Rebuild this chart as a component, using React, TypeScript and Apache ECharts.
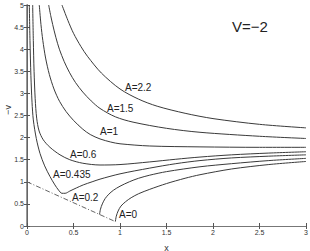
import React, { useEffect, useRef } from "react";
import * as echarts from "echarts";

const xTicks = [0, 0.5, 1, 1.5, 2, 2.5, 3];
const yTicks = [0, 0.5, 1, 1.5, 2, 2.5, 3, 3.5, 4, 4.5, 5];

const curveA22 = [[0.376,5],[0.44,4.65],[0.5,4.36],[0.58,4.06],[0.65,3.84],[0.8,3.46],[1.0,3.1],[1.2,2.87],[1.4,2.71],[1.7,2.55],[2.0,2.43],[2.5,2.3],[3,2.22]];
const curveA15 = [[0.233,5],[0.255,4.76],[0.276,4.56],[0.31,4.27],[0.348,4.0],[0.4,3.72],[0.455,3.48],[0.52,3.25],[0.6,3.03],[0.69,2.83],[0.785,2.66],[0.95,2.47],[1.14,2.35],[1.5,2.21],[1.86,2.12],[2.5,2.03],[3,1.98]];
const curveA1 = [[0.132,5],[0.15,4.56],[0.17,4.2],[0.2,3.8],[0.24,3.43],[0.29,3.1],[0.35,2.82],[0.42,2.59],[0.5,2.39],[0.6,2.19],[0.68,2.07],[0.785,1.97],[0.9,1.9],[1.0,1.86],[1.32,1.81],[1.86,1.79],[2.5,1.78],[3,1.78]];
const curveA06 = [[0.061,5],[0.068,4.2],[0.076,3.5],[0.088,2.88],[0.104,2.44],[0.13,2.15],[0.175,1.95],[0.247,1.78],[0.355,1.61],[0.46,1.5],[0.6,1.42],[0.785,1.38],[1.0,1.39],[1.32,1.45],[1.6,1.51],[1.86,1.56],[2.2,1.61],[2.6,1.65],[3,1.68]];
const curveA0435 = [[0.025,5],[0.032,4.2],[0.042,3.4],[0.054,2.8],[0.068,2.4],[0.1,1.98],[0.14,1.64],[0.19,1.36],[0.247,1.12],[0.3,0.93],[0.34,0.81],[0.375,0.74],[0.41,0.74],[0.46,0.79],[0.53,0.86],[0.605,0.93],[0.7,1.0],[0.785,1.06],[1.0,1.18],[1.32,1.31],[1.6,1.41],[1.86,1.48],[2.2,1.54],[2.6,1.58],[3,1.61]];
const curveA02 = [[0.78,0.26],[0.79,0.38],[0.81,0.5],[0.84,0.62],[0.88,0.72],[0.93,0.81],[1.0,0.9],[1.1,1.0],[1.2,1.08],[1.32,1.15],[1.5,1.23],[1.86,1.34],[2.2,1.41],[2.6,1.48],[3,1.53]];
const curveA0 = [[0.95,0.1],[0.96,0.22],[0.98,0.34],[1.01,0.45],[1.06,0.55],[1.12,0.64],[1.2,0.73],[1.32,0.83],[1.5,0.96],[1.7,1.08],[1.86,1.16],[2.2,1.29],[2.6,1.39],[3,1.46]];
const boundary = [[0,1],[0.95,0.1]];

const curveLabels = ["A=2.2", "A=1.5", "A=1", "A=0.6", "A=0.435", "A=0.2", "A=0"];
const labelPos = [[125,87.5],[107,108],[100,131.5],[70,154],[53,174],[72,197],[119,214]];
const title = "V=\u22122";
const yName = "\u2212v";

const FONT = "'Liberation Sans', Arial, sans-serif";

export default function App() {
  const ref = useRef<HTMLDivElement>(null);
  useEffect(() => {
    const chart = echarts.init(ref.current!, undefined, { renderer: "svg" });
    const curves = [curveA22, curveA15, curveA1, curveA06, curveA0435, curveA02, curveA0];
    const lineSeries: any[] = curves.map((d) => ({
      type: "line",
      data: d,
      showSymbol: false,
      smooth: 0.3,
      lineStyle: { color: "#3a3a3a", width: 1 },
      xAxisIndex: 0,
      yAxisIndex: 0,
    }));
    lineSeries.push({
      type: "line",
      data: boundary,
      showSymbol: false,
      lineStyle: { color: "#666", width: 1, type: [5, 2, 1, 2] },
    });
    const axisCommon = {
      type: "value" as const,
      splitLine: { show: false },
      axisTick: { inside: true, length: 3, lineStyle: { color: "#555" } },
    };
    chart.setOption({
      animation: false,
      backgroundColor: "#fff",
      grid: { left: 27, right: 4, top: 5, bottom: 25, containLabel: false, outerBoundsMode: "none" },
      xAxis: [
        {
          ...axisCommon,
          min: 0, max: 3, interval: 0.5,
          position: "bottom",
          axisLine: { show: true, lineStyle: { color: "#333", width: 1 } },
          axisLabel: { fontSize: 7, color: "#333", margin: 3, fontFamily: FONT, formatter: (v: number) => String(v) },
          name: "x", nameLocation: "middle", nameGap: 17,
          nameTextStyle: { fontSize: 9, color: "#333", fontFamily: FONT },
        },
        {
          ...axisCommon,
          min: 0, max: 3, interval: 0.5,
          position: "top",
          axisLine: { show: true, lineStyle: { color: "#777", width: 1 } },
          axisLabel: { show: false },
        },
      ],
      yAxis: [
        {
          ...axisCommon,
          min: 0, max: 5, interval: 0.5,
          position: "left",
          axisLine: { show: true, lineStyle: { color: "#333", width: 1 } },
          axisLabel: { fontSize: 7, color: "#333", margin: 3, fontFamily: FONT, formatter: (v: number) => String(v) },
        },
        {
          ...axisCommon,
          min: 0, max: 5, interval: 0.5,
          position: "right",
          axisLine: { show: true, lineStyle: { color: "#777", width: 1.5 } },
          axisLabel: { show: false },
        },
      ],
      graphic: [
        ...curveLabels.map((t, i) => ({
          type: "text",
          x: labelPos[i][0],
          y: labelPos[i][1],
          style: { text: t, fontSize: 10, fontFamily: FONT, fill: "#222", align: "left", verticalAlign: "middle" },
        })),
        {
          type: "text",
          x: 232,
          y: 26,
          style: { text: title, fontSize: 15, fontFamily: FONT, fill: "#222", align: "left", verticalAlign: "middle" },
        },
        {
          type: "text",
          x: 8,
          y: 110,
          rotation: Math.PI / 2,
          style: { text: yName, fontSize: 9, fontFamily: FONT, fill: "#333", align: "center", verticalAlign: "middle" },
        },
      ],
      series: lineSeries,
    });
    return () => chart.dispose();
  }, []);
  return <div ref={ref} style={{ position: "fixed", left: 0, top: 0, width: 310, height: 251 }} />;
}
